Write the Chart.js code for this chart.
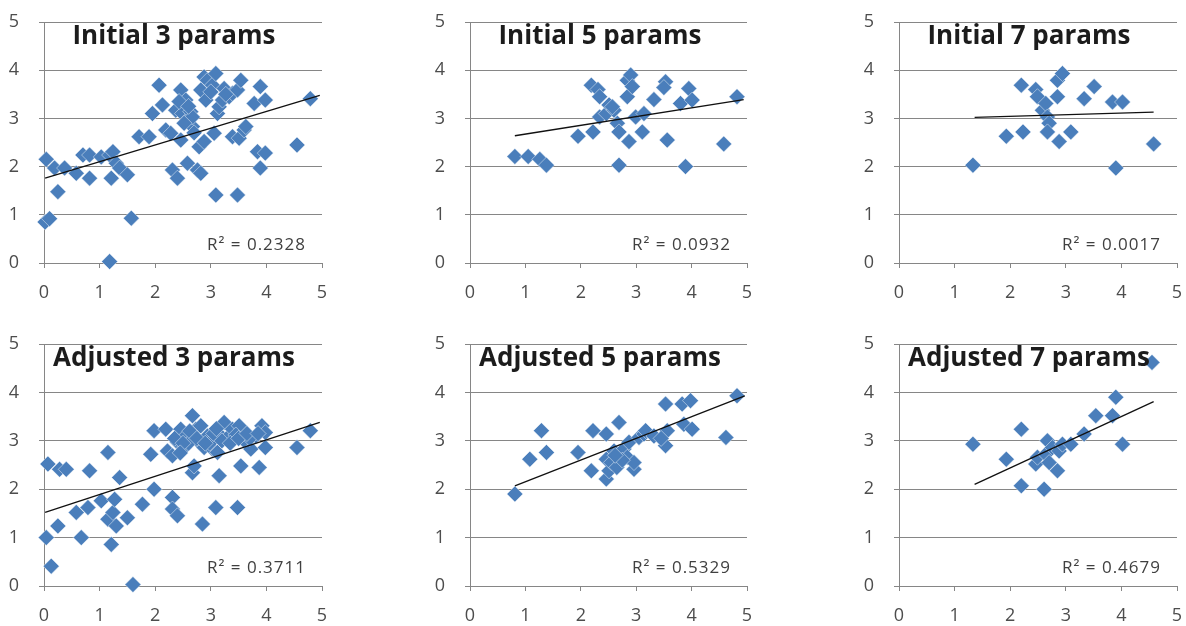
<!DOCTYPE html>
<html>
<head>
<meta charset="utf-8">
<script src="https://cdn.jsdelivr.net/npm/chart.js@4.4.0/dist/chart.umd.min.js"></script>
<style>
  html, body { margin: 0; padding: 0; background: #fff; }
  #wrap { position: relative; width: 1186px; height: 626px; overflow: hidden; }
  #wrap canvas { position: absolute; }
</style>
</head>
<body>
<div id="wrap"></div>
<script>
// Initial 3 params
const init3X = [0.04, 0.02, 0.10, 0.25, 0.19, 0.37, 0.58, 0.70, 0.82, 0.82,
                1.03, 1.18, 1.21, 1.24, 1.30, 1.36, 1.50, 1.57, 1.18, 1.71,
                1.89, 1.95, 2.07, 2.13, 2.19, 2.28, 2.31, 2.40, 2.37, 2.46,
                2.46, 2.49, 2.55, 2.58, 2.64, 2.67, 2.67, 2.58, 2.76, 2.82,
                2.79, 2.88, 2.82, 2.88, 2.91, 2.94, 3.03, 3.09, 3.06, 3.09,
                3.12, 3.15, 3.21, 3.24, 3.33, 3.39, 3.39, 3.48, 3.48, 3.51,
                3.54, 3.60, 3.63, 3.78, 3.84, 3.89, 3.89, 3.98, 3.98, 4.55,
                4.79, 2.43, 2.60, 2.52, 2.70, 3.00, 3.27];
const init3Y = [2.15, 0.85, 0.92, 1.48, 1.97, 1.97, 1.86, 2.24, 1.76, 2.24,
                2.20, 2.24, 1.76, 2.31, 2.07, 1.97, 1.83, 0.93, 0.03, 2.62,
                2.62, 3.10, 3.69, 3.28, 2.76, 2.69, 1.93, 1.76, 3.17, 3.59,
                2.55, 3.10, 3.38, 2.97, 3.14, 2.83, 3.03, 2.07, 1.93, 1.86,
                2.41, 2.52, 3.59, 3.86, 3.38, 3.79, 3.69, 3.93, 2.69, 1.41,
                3.10, 3.24, 3.38, 3.62, 3.45, 3.52, 2.62, 1.41, 3.59, 2.59,
                3.79, 2.76, 2.83, 3.31, 2.31, 1.97, 3.66, 3.38, 2.28, 2.45,
                3.41, 3.35, 3.25, 2.90, 2.70, 3.55, 3.50];
const init3TrendX = [0.02, 4.96];
const init3TrendY = [1.76, 3.48];

// Initial 5 params
const init5X = [0.81, 1.05, 1.26, 1.38, 1.95, 2.19, 2.22, 2.31, 2.34, 2.34,
                2.46, 2.51, 2.60, 2.66, 2.69, 2.69, 2.84, 2.90, 2.84, 2.93,
                2.87, 2.99, 3.11, 3.14, 3.32, 3.53, 3.56, 3.80, 3.89, 3.95,
                4.01, 4.58, 4.82, 3.50, 2.57];
const init5Y = [2.21, 2.21, 2.15, 2.03, 2.63, 3.69, 2.72, 3.60, 3.45, 3.03,
                3.10, 3.28, 3.17, 2.90, 2.72, 2.03, 3.79, 3.90, 3.45, 3.66,
                2.52, 3.03, 2.72, 3.10, 3.39, 3.76, 2.55, 3.31, 2.00, 3.62,
                3.38, 2.47, 3.45, 3.64, 3.24];
const init5TrendX = [0.81, 4.94];
const init5TrendY = [2.64, 3.39];

// Initial 7 params
const init7X = [1.33, 1.93, 2.20, 2.23, 2.46, 2.49, 2.58, 2.64, 2.67, 2.70,
                2.67, 2.85, 2.94, 2.85, 2.88, 3.09, 3.33, 3.51, 3.84, 4.02,
                3.90, 4.58];
const init7Y = [2.03, 2.63, 3.69, 2.72, 3.60, 3.45, 3.17, 3.31, 3.03, 2.90,
                2.72, 3.79, 3.93, 3.45, 2.52, 2.72, 3.41, 3.66, 3.34, 3.34,
                1.97, 2.47];
const init7TrendX = [1.36, 4.58];
const init7TrendY = [3.02, 3.13];

// Adjusted 3 params
const adj3X = [0.07, 0.04, 0.13, 0.25, 0.28, 0.40, 0.58, 0.67, 0.79, 0.82,
               1.03, 1.15, 1.15, 1.21, 1.24, 1.27, 1.30, 1.36, 1.50, 1.60,
               1.77, 1.92, 1.98, 1.98, 2.19, 2.22, 2.31, 2.31, 2.40, 2.31,
               2.40, 2.46, 2.52, 2.55, 2.67, 2.67, 2.70, 2.73, 2.79, 2.82,
               2.85, 2.88, 2.94, 3.03, 3.09, 3.12, 3.15, 3.18, 3.24, 3.33,
               3.39, 3.48, 3.51, 3.54, 3.63, 3.72, 3.81, 3.87, 3.92, 3.98,
               3.98, 4.55, 4.79, 2.60, 2.98, 3.45, 3.70, 2.35, 2.50, 2.62,
               2.75, 2.90, 3.05, 3.20, 3.35, 3.50, 3.65, 3.85, 2.45, 3.10];
const adj3Y = [2.52, 1.00, 0.41, 1.24, 2.41, 2.41, 1.52, 1.00, 1.62, 2.38,
               1.76, 2.76, 1.38, 0.86, 1.52, 1.79, 1.24, 2.24, 1.41, 0.03,
               1.69, 2.72, 3.21, 2.00, 3.24, 2.79, 1.83, 1.59, 1.45, 2.69,
               2.97, 3.24, 2.86, 3.10, 3.52, 2.34, 2.48, 3.24, 2.97, 3.31,
               1.28, 2.86, 3.10, 2.83, 1.62, 2.76, 2.28, 3.10, 3.38, 3.10,
               3.24, 1.62, 3.31, 2.48, 2.97, 2.83, 3.10, 2.45, 3.31, 2.86,
               3.17, 2.86, 3.21, 2.95, 2.95, 3.12, 3.05, 3.05, 2.95, 3.20,
               3.05, 2.95, 3.15, 3.00, 2.95, 3.05, 3.15, 3.15, 2.75, 3.25];
const adj3TrendX = [0.02, 4.96];
const adj3TrendY = [1.52, 3.38];

// Adjusted 5 params
const adj5X = [0.81, 1.08, 1.29, 1.38, 1.95, 2.19, 2.22, 2.46, 2.46, 2.46,
               2.51, 2.57, 2.60, 2.69, 2.72, 2.78, 2.84, 2.87, 2.96, 2.96,
               3.05, 3.14, 3.17, 3.32, 3.53, 3.53, 3.56, 3.83, 3.86, 3.98,
               4.01, 4.62, 4.82, 2.55, 2.65, 2.75, 2.62, 3.45];
const adj5Y = [1.90, 2.62, 3.21, 2.76, 2.76, 2.38, 3.21, 3.14, 2.62, 2.21,
               2.38, 2.55, 2.79, 3.38, 2.69, 2.83, 2.66, 2.97, 2.41, 2.55,
               3.07, 3.14, 3.21, 3.10, 3.76, 2.90, 3.21, 3.76, 3.34, 3.83,
               3.24, 3.07, 3.93, 2.55, 2.45, 2.60, 2.70, 3.05];
const adj5TrendX = [0.81, 4.96];
const adj5TrendY = [2.07, 3.93];

// Adjusted 7 params
const adj7X = [1.33, 1.93, 2.20, 2.20, 2.46, 2.49, 2.61, 2.64, 2.67, 2.70,
               2.76, 2.85, 2.88, 2.94, 3.09, 3.33, 3.54, 3.84, 3.90, 4.02,
               4.55];
const adj7Y = [2.93, 2.62, 3.24, 2.07, 2.52, 2.66, 2.00, 2.72, 3.00, 2.55,
               2.86, 2.38, 2.79, 2.93, 2.93, 3.14, 3.52, 3.52, 3.90, 2.93,
               4.62];
const adj7TrendX = [1.36, 4.58];
const adj7TrendY = [2.10, 3.81];

const panels = [
  { title: "Initial 3 params", r2: "0.2328", xs: init3X, ys: init3Y, tx: init3TrendX, ty: init3TrendY, box: [44, 22, 279, 241] },
  { title: "Initial 5 params", r2: "0.0932", xs: init5X, ys: init5Y, tx: init5TrendX, ty: init5TrendY, box: [470, 22, 278, 241] },
  { title: "Initial 7 params", r2: "0.0017", xs: init7X, ys: init7Y, tx: init7TrendX, ty: init7TrendY, box: [899, 22, 279, 241] },
  { title: "Adjusted 3 params", r2: "0.3711", xs: adj3X, ys: adj3Y, tx: adj3TrendX, ty: adj3TrendY, box: [44, 344, 279, 242] },
  { title: "Adjusted 5 params", r2: "0.5329", xs: adj5X, ys: adj5Y, tx: adj5TrendX, ty: adj5TrendY, box: [470, 344, 278, 242] },
  { title: "Adjusted 7 params", r2: "0.4679", xs: adj7X, ys: adj7Y, tx: adj7TrendX, ty: adj7TrendY, box: [899, 344, 279, 242] }
];

const GRID = "#868686";
const BLUE = "#4a7ebb";
const PAD_L = 44, PAD_T = 14, PAD_R = 8, PAD_B = 40;

// title inside the plot + R² label near the bottom right
const panelText = {
  id: "panelText",
  afterDatasetsDraw(chart, args, opts) {
    const { ctx, chartArea: a } = chart;
    ctx.save();
    ctx.fillStyle = "#1c1c1c";
    ctx.font = "bold 26px 'Open Sans'";
    ctx.textAlign = "center";
    ctx.textBaseline = "middle";
    ctx.fillText(opts.title, a.left + 130, a.top + 15);
    ctx.fillStyle = "#404040";
    ctx.font = "17px 'Open Sans'";
    ctx.letterSpacing = "1px";
    ctx.textAlign = "right";
    ctx.fillText("R\u00B2 = " + opts.r2, a.right - 16, a.bottom - 18);
    ctx.restore();
  }
};

// keep the plot box fixed: no extra room for edge tick labels
function fixAxis(size, key) {
  return s => {
    s[key] = size;
    s.paddingTop = 0; s.paddingBottom = 0;
    s.paddingLeft = 0; s.paddingRight = 0;
  };
}

const tickFont = { family: "'Open Sans'", size: 18 };
const wrap = document.getElementById("wrap");

panels.forEach(p => {
  const [left, top, w, h] = p.box;
  const canvas = document.createElement("canvas");
  canvas.width = w + PAD_L + PAD_R;
  canvas.height = h + PAD_T + PAD_B;
  canvas.style.left = (left - PAD_L) + "px";
  canvas.style.top = (top - PAD_T) + "px";
  wrap.appendChild(canvas);

  new Chart(canvas, {
    type: "scatter",
    data: {
      datasets: [
        {
          data: p.tx.map((x, i) => ({ x: x, y: p.ty[i] })),
          showLine: true,
          borderColor: "#111",
          borderWidth: 1.3,
          pointRadius: 0,
          clip: false,
          order: 1
        },
        {
          data: p.xs.map((x, i) => ({ x: x, y: p.ys[i] })),
          pointStyle: "rectRot",
          pointRadius: 8,
          backgroundColor: BLUE,
          borderColor: "rgba(255,255,255,0.45)",
          borderWidth: 1,
          clip: false,
          order: 2
        }
      ]
    },
    options: {
      responsive: false,
      animation: false,
      devicePixelRatio: 1,
      layout: { padding: { top: PAD_T, right: PAD_R, left: 0, bottom: 0 } },
      plugins: {
        legend: { display: false },
        tooltip: { enabled: false },
        panelText: { title: p.title, r2: p.r2 }
      },
      scales: {
        x: {
          type: "linear",
          min: 0,
          max: 5,
          ticks: { stepSize: 1, padding: 14, color: "#4d4d4d", font: tickFont },
          grid: { drawOnChartArea: false, drawTicks: true, tickLength: 5, color: GRID },
          border: { color: GRID },
          afterFit: fixAxis(PAD_B, "height")
        },
        y: {
          min: 0,
          max: 5,
          ticks: { stepSize: 1, padding: 20, color: "#4d4d4d", font: tickFont },
          grid: { color: GRID, tickLength: 5 },
          border: { color: GRID },
          afterFit: fixAxis(PAD_L, "width")
        }
      }
    },
    plugins: [panelText]
  });
});
</script>
</body>
</html>
